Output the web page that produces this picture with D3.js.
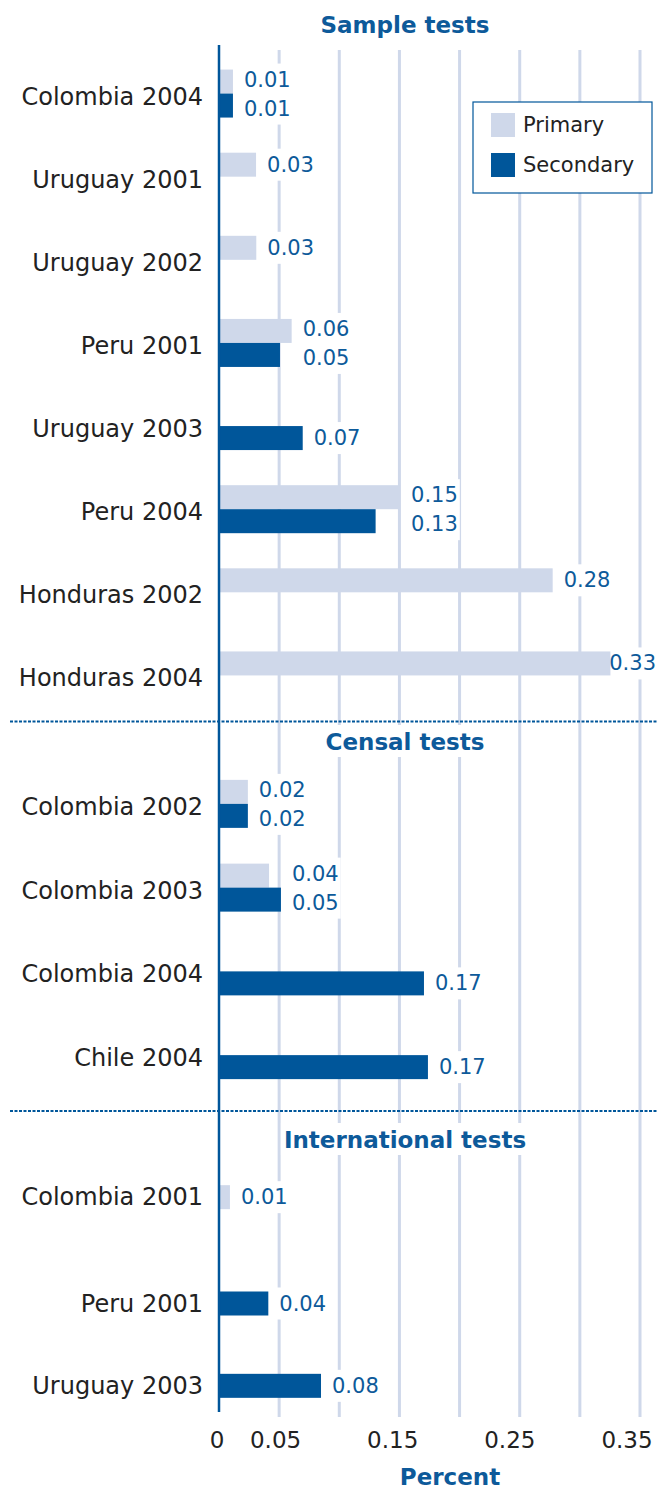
<!DOCTYPE html>
<html>
<head>
<meta charset="utf-8">
<script src="https://cdn.jsdelivr.net/npm/d3@7"></script>
<style>
  body { margin: 0; background: #fff; }
  text { font-family: "DejaVu Sans", Verdana, sans-serif; }
</style>
</head>
<body>
<script>
// data
var sectionNames = ["Sample tests", "Censal tests", "International tests"];

var sampleCats = ["Colombia 2004", "Uruguay 2001", "Uruguay 2002", "Peru 2001", "Uruguay 2003", "Peru 2004", "Honduras 2002", "Honduras 2004"];
var samplePrimary = [0.0116, 0.0308, 0.031, 0.0604, null, 0.1505, 0.2774, 0.3256];
var sampleSecondary = [0.0116, null, null, 0.0507, 0.0696, 0.1302, null, null];

var censalCats = ["Colombia 2002", "Colombia 2003", "Colombia 2004", "Chile 2004"];
var censalPrimary = [0.024, 0.0416, null, null];
var censalSecondary = [0.024, 0.0515, 0.1704, 0.1737];

var intlCats = ["Colombia 2001", "Peru 2001", "Uruguay 2003"];
var intlPrimary = [0.0091, null, null];
var intlSecondary = [null, 0.041, 0.0848];

var seriesNames = ["Primary", "Secondary"];
var gridValues = [0.05, 0.1, 0.15, 0.2, 0.25, 0.3, 0.35];
var tickValues = [0, 0.05, 0.15, 0.25, 0.35];
var axisTitle = "Percent";

// layout
var W = 657, H = 1491;
var blue = "#00569a", light = "#cfd8ea", textBlue = "#0d5a9a", dark = "#222";
var sections = [
  {name: sectionNames[0], cats: sampleCats, p: samplePrimary, s: sampleSecondary, range: [52, 717], titleY: 25, labelOnBar: false},
  {name: sectionNames[1], cats: censalCats, p: censalPrimary, s: censalSecondary, range: [762, 1097], titleY: 742, labelOnBar: false},
  {name: sectionNames[2], cats: intlCats, p: intlPrimary, s: intlSecondary, range: [1168, 1415], titleY: 1140, labelOnBar: true}
];
var separators = [721.5, 1111];

var svg = d3.select("body").append("svg").attr("width", W).attr("height", H);

var x = d3.scaleLinear().domain([0, 0.35]).range([219, 640]);
// tick labels in the original sit on a slightly tighter spacing than the grid
var xLab = d3.scaleLinear().domain([0, 0.35]).range([217, 627]);
var fmt = d3.format(".2f");

// gridlines
svg.append("g").selectAll("line")
  .data(gridValues).enter().append("line")
  .attr("x1", function(d){ return x(d); }).attr("x2", function(d){ return x(d); })
  .attr("y1", 50).attr("y2", 1417)
  .attr("stroke", light).attr("stroke-width", 3);

var barH = 24;
var sub = d3.scaleBand().domain(seriesNames).range([-barH, barH]);

sections.forEach(function(sec){
  var y = d3.scaleBand().domain(sec.cats).range(sec.range);
  var rows = sec.cats.map(function(c, i){
    return {cat: c, vals: [sec.p[i], sec.s[i]], cy: y(c) + y.bandwidth() / 2};
  });

  // section title with white box behind it
  var tg = svg.append("g");
  var tt = tg.append("text")
    .attr("x", 405).attr("y", sec.titleY)
    .attr("text-anchor", "middle").attr("dominant-baseline", "central")
    .attr("font-size", 23).attr("font-weight", "bold").attr("fill", textBlue)
    .text(sec.name);
  var bb = tt.node().getBBox();
  tg.insert("rect", "text")
    .attr("x", bb.x - 3).attr("y", sec.titleY - 17)
    .attr("width", bb.width + 6).attr("height", 32)
    .attr("fill", "#fff");

  // category labels
  svg.append("g").selectAll("text")
    .data(rows).enter().append("text")
    .attr("x", 203)
    .attr("y", function(d){
      if (sec.labelOnBar) {
        var k = d.vals[0] != null ? 0 : 1;
        return d.cy + sub(seriesNames[k]) + barH / 2;
      }
      return d.cy + 3;
    })
    .attr("text-anchor", "end").attr("dominant-baseline", "central")
    .attr("font-size", 24).attr("fill", dark)
    .text(function(d){ return d.cat; });

  // bars
  var bars = [];
  rows.forEach(function(r){
    r.vals.forEach(function(v, k){
      if (v != null) bars.push({v: v, k: k, cy: r.cy});
    });
  });
  svg.append("g").selectAll("rect")
    .data(bars).enter().append("rect")
    .attr("x", x(0))
    .attr("y", function(d){ return d.cy + sub(seriesNames[d.k]); })
    .attr("width", function(d){ return x(d.v) - x(0); })
    .attr("height", barH)
    .attr("fill", function(d){ return d.k === 0 ? light : blue; });

  // value labels, with white box that hides the gridlines
  rows.forEach(function(r){
    var present = [];
    r.vals.forEach(function(v, k){ if (v != null) present.push({v: v, k: k}); });
    var barEnd = x(d3.max(present, function(d){ return d.v; }));
    var lx = barEnd + 11;
    var g = svg.append("g");
    var texts = g.selectAll("text")
      .data(present).enter().append("text")
      .attr("y", function(d){
        var c = r.cy + sub(seriesNames[d.k]) + barH / 2;
        if (present.length === 2) c += d.k === 0 ? -2 : 3;
        return c;
      })
      .attr("dominant-baseline", "central")
      .attr("font-size", 21).attr("fill", textBlue)
      .text(function(d){ return fmt(d.v); });
    var tw = d3.max(texts.nodes(), function(n){ return n.getComputedTextLength(); });
    if (lx + tw > W) lx = W - tw - 1;
    texts.attr("x", lx);
    var ys = texts.nodes().map(function(n){ return +n.getAttribute("y"); });
    var bx = Math.max(lx - 10, barEnd);
    g.insert("rect", "text")
      .attr("x", bx).attr("y", d3.min(ys) - 16)
      .attr("width", lx + tw + 2 - bx).attr("height", d3.max(ys) - d3.min(ys) + 32)
      .attr("fill", "#fff");
  });
});

// dashed separators between sections
svg.append("g").selectAll("line")
  .data(separators).enter().append("line")
  .attr("x1", 10).attr("x2", W)
  .attr("y1", function(d){ return d; }).attr("y2", function(d){ return d; })
  .attr("stroke", blue).attr("stroke-width", 2)
  .attr("stroke-dasharray", "3,1.5");

// vertical axis line
svg.append("line")
  .attr("x1", x(0)).attr("x2", x(0))
  .attr("y1", 45).attr("y2", 1412)
  .attr("stroke", blue).attr("stroke-width", 2.5);

// x tick labels
svg.append("g").selectAll("text")
  .data(tickValues).enter().append("text")
  .attr("x", function(d){ return xLab(d); })
  .attr("y", 1440)
  .attr("text-anchor", "middle").attr("dominant-baseline", "central")
  .attr("font-size", 23).attr("fill", dark)
  .text(function(d){ return d === 0 ? "0" : fmt(d); });

svg.append("text")
  .attr("x", 450).attr("y", 1485)
  .attr("text-anchor", "middle")
  .attr("font-size", 23).attr("font-weight", "bold").attr("fill", textBlue)
  .text(axisTitle);

// legend
var lg = svg.append("g").attr("transform", "translate(473,102)");
lg.append("rect")
  .attr("width", 179).attr("height", 91)
  .attr("fill", "#fff").attr("stroke", blue).attr("stroke-width", 1.2);
var li = lg.selectAll("g.item")
  .data(seriesNames).enter().append("g")
  .attr("transform", function(d, i){ return "translate(18," + (11 + i * 40) + ")"; });
li.append("rect")
  .attr("width", 24).attr("height", 24)
  .attr("fill", function(d, i){ return i === 0 ? light : blue; });
li.append("text")
  .attr("x", 32).attr("y", 12)
  .attr("dominant-baseline", "central")
  .attr("font-size", 21).attr("fill", dark)
  .text(function(d){ return d; });
</script>
</body>
</html>
